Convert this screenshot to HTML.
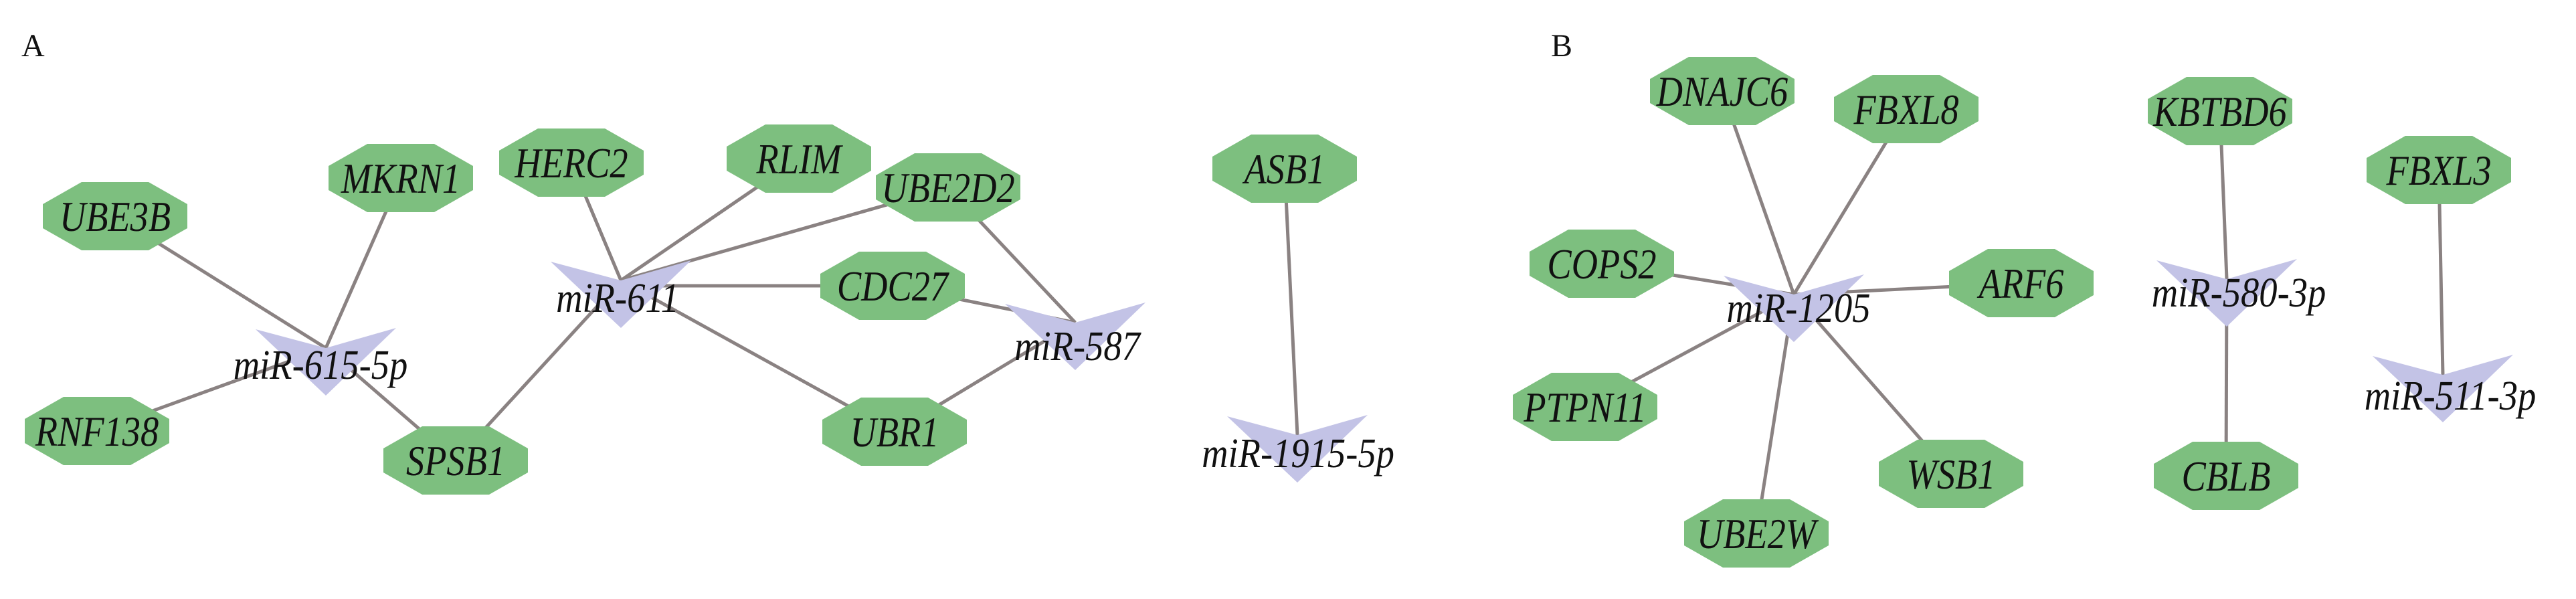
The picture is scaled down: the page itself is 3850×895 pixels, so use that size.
<!DOCTYPE html>
<html><head><meta charset="utf-8"><style>
html,body{margin:0;padding:0;background:#fff;}
svg{display:block;}
text{font-family:"Liberation Serif",serif;font-style:italic;fill:#111;}
.g{font-size:64px;text-anchor:middle;font-weight:500;}
.m{font-size:62px;text-anchor:middle;}
.p{font-style:normal;font-size:48px;}
</style></head><body>
<svg width="3850" height="895" viewBox="0 0 3850 895" xmlns="http://www.w3.org/2000/svg">
<defs>
<polygon id="oct" points="-50,-51 50,-51 108,-18 108,18 50,51 -50,51 -108,18 -108,-18" fill="#7dbf7f"/>
<polygon id="chev" points="-105,-28 0,0 105,-30 0,71" fill="#c3c3e6"/>
</defs>
<text class="p" x="32" y="84">A</text>
<text class="p" x="2318" y="84">B</text>
<g stroke="#8a8282" stroke-width="5">
<line x1="172" y1="323" x2="487" y2="520"/>
<line x1="599" y1="266" x2="487" y2="520"/>
<line x1="145" y1="644" x2="487" y2="520"/>
<line x1="681" y1="688" x2="487" y2="520"/>
<line x1="854" y1="243" x2="928" y2="419"/>
<line x1="1194" y1="237" x2="928" y2="419"/>
<line x1="1417" y1="280" x2="928" y2="419"/>
<line x1="1334" y1="427" x2="928" y2="427"/>
<line x1="1337" y1="645" x2="928" y2="419"/>
<line x1="681" y1="688" x2="928" y2="419"/>
<line x1="1417" y1="280" x2="1607" y2="482"/>
<line x1="1334" y1="427" x2="1607" y2="482"/>
<line x1="1337" y1="645" x2="1607" y2="482"/>
<line x1="1920" y1="252" x2="1939" y2="650"/>
<line x1="2574" y1="136" x2="2681" y2="440"/>
<line x1="2849" y1="163" x2="2681" y2="440"/>
<line x1="2394" y1="394" x2="2681" y2="440"/>
<line x1="3021" y1="423" x2="2681" y2="440"/>
<line x1="2369" y1="608" x2="2681" y2="440"/>
<line x1="2916" y1="708" x2="2681" y2="440"/>
<line x1="2625" y1="797" x2="2681" y2="440"/>
<line x1="3318" y1="166" x2="3328" y2="417"/>
<line x1="3327" y1="711" x2="3328" y2="417"/>
<line x1="3645" y1="254" x2="3651" y2="560"/>
</g>
<use href="#chev" x="487" y="520"/>
<use href="#chev" x="928" y="419"/>
<use href="#chev" x="1607" y="482"/>
<use href="#chev" x="1939" y="650"/>
<use href="#chev" x="2681" y="440"/>
<use href="#chev" x="3328" y="417"/>
<use href="#chev" x="3651" y="560"/>

<use href="#oct" x="172" y="323"/><text class="g" transform="translate(172 345) scale(.85 1)">UBE3B</text>
<use href="#oct" x="599" y="266"/><text class="g" transform="translate(599 288) scale(.85 1)">MKRN1</text>
<use href="#oct" x="854" y="243"/><text class="g" transform="translate(854 265) scale(.85 1)">HERC2</text>
<use href="#oct" x="1194" y="237"/><text class="g" transform="translate(1194 259) scale(.85 1)">RLIM</text>
<use href="#oct" x="1417" y="280"/><text class="g" transform="translate(1417 302) scale(.85 1)">UBE2D2</text>
<use href="#oct" x="1334" y="427"/><text class="g" transform="translate(1334 449) scale(.85 1)">CDC27</text>
<use href="#oct" x="1337" y="645"/><text class="g" transform="translate(1337 667) scale(.85 1)">UBR1</text>
<use href="#oct" x="681" y="688"/><text class="g" transform="translate(681 710) scale(.85 1)">SPSB1</text>
<use href="#oct" x="145" y="644"/><text class="g" transform="translate(145 666) scale(.85 1)">RNF138</text>
<use href="#oct" x="1920" y="252"/><text class="g" transform="translate(1920 274) scale(.85 1)">ASB1</text>

<use href="#oct" x="2574" y="136"/><text class="g" transform="translate(2574 158) scale(.85 1)">DNAJC6</text>
<use href="#oct" x="2849" y="163"/><text class="g" transform="translate(2849 185) scale(.85 1)">FBXL8</text>
<use href="#oct" x="3318" y="166"/><text class="g" transform="translate(3318 188) scale(.85 1)">KBTBD6</text>
<use href="#oct" x="3645" y="254"/><text class="g" transform="translate(3645 276) scale(.85 1)">FBXL3</text>
<use href="#oct" x="2394" y="394"/><text class="g" transform="translate(2394 416) scale(.85 1)">COPS2</text>
<use href="#oct" x="3021" y="423"/><text class="g" transform="translate(3021 445) scale(.85 1)">ARF6</text>
<use href="#oct" x="2369" y="608"/><text class="g" transform="translate(2369 630) scale(.85 1)">PTPN11</text>
<use href="#oct" x="2916" y="708"/><text class="g" transform="translate(2916 730) scale(.85 1)">WSB1</text>
<use href="#oct" x="2625" y="797"/><text class="g" transform="translate(2625 819) scale(.85 1)">UBE2W</text>
<use href="#oct" x="3327" y="711"/><text class="g" transform="translate(3327 733) scale(.85 1)">CBLB</text>

<text class="m" transform="translate(479 566) scale(.88 1)">miR-615-5p</text>
<text class="m" transform="translate(923 466) scale(.88 1)">miR-611</text>
<text class="m" transform="translate(1610 538) scale(.88 1)">miR-587</text>
<text class="m" transform="translate(1940 698) scale(.88 1)">miR-1915-5p</text>
<text class="m" transform="translate(2688 481) scale(.88 1)">miR-1205</text>
<text class="m" transform="translate(3346 458) scale(.88 1)">miR-580-3p</text>
<text class="m" transform="translate(3662 612) scale(.88 1)">miR-511-3p</text>
</svg>
</body></html>
